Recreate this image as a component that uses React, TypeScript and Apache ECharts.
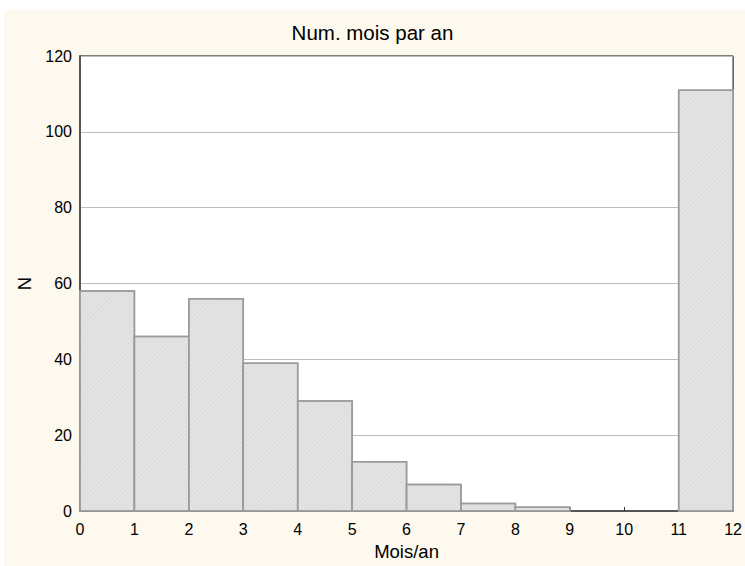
import React, { useEffect, useRef } from "react";
import * as echarts from "echarts";

const binStarts = [0, 1, 2, 3, 4, 5, 6, 7, 8, 9, 10, 11];
const binWidth = 1;
const counts = [58, 46, 56, 39, 29, 13, 7, 2, 1, 0, 0, 111];
const title = "Num. mois par an";
const xName = "Mois/an";
const yName = "N";

export default function App() {
  const ref = useRef<HTMLDivElement>(null);
  useEffect(() => {
    if (!ref.current) return;
    const chart = echarts.init(ref.current, null, { renderer: "svg" });
    const font = "Liberation Sans, Arial, Helvetica, sans-serif";
    const data = binStarts.map((s, i) => [s, s + binWidth, counts[i]]);
    chart.setOption({
      animation: false,
      backgroundColor: "#ffffff",
      graphic: [
        {
          type: "rect",
          z: -10,
          silent: true,
          shape: { x: 4, y: 10, width: 745, height: 566 },
          style: { fill: "#fdf9ee" },
        },
      ],
      title: {
        text: title,
        left: "center",
        top: 17,
        textStyle: { fontFamily: font, fontSize: 20.5, fontWeight: "normal", color: "#000" },
      },
      grid: {
        left: 80,
        top: 56,
        right: 8,
        bottom: 55,
        show: true,
        backgroundColor: "#ffffff",
        borderColor: "#000",
        borderWidth: 1,
      },
      xAxis: {
        type: "value",
        min: 0,
        max: 12,
        interval: 1,
        name: xName,
        nameLocation: "middle",
        nameGap: 30,
        nameTextStyle: { fontFamily: font, fontSize: 18.5, color: "#000" },
        axisLine: { show: true, onZero: false, lineStyle: { color: "#555", width: 2 } },
        axisTick: { show: true, inside: true, length: 4, lineStyle: { color: "#333" } },
        axisLabel: { fontFamily: font, fontSize: 16, color: "#000", margin: 10 },
        splitLine: { show: false },
      },
      yAxis: {
        type: "value",
        min: 0,
        max: 120,
        interval: 20,
        name: yName,
        nameLocation: "middle",
        nameGap: 41,
        nameTextStyle: { fontFamily: font, fontSize: 18.5, color: "#000" },
        axisLine: { show: true, lineStyle: { color: "#555", width: 2 } },
        axisTick: { show: false },
        axisLabel: { fontFamily: font, fontSize: 16, color: "#000", margin: 8 },
        splitLine: { show: true, lineStyle: { color: "#bdbdbd", width: 1 } },
      },
      series: [
        {
          type: "custom",
          data,
          encode: { x: [0, 1], y: 2 },
          renderItem: (params: any, api: any) => {
            const x0 = api.value(0);
            const x1 = api.value(1);
            const v = api.value(2);
            if (!v) return null;
            const p0 = api.coord([x0, v]);
            const p1 = api.coord([x1, 0]);
            return {
              type: "rect",
              shape: { x: p0[0], y: p0[1], width: p1[0] - p0[0], height: p1[1] - p0[1] },
              style: {
                fill: "#e4e4e4",
                stroke: "#9a9a9a",
                lineWidth: 1.5,
                decal: {
                  symbol: "rect",
                  color: "rgba(200,200,200,0.35)",
                  dashArrayX: [1, 0],
                  dashArrayY: [1, 2],
                  rotation: -Math.PI / 4,
                },
              },
            };
          },
        },
      ],
    });
    return () => chart.dispose();
  }, []);
  return (
    <div
      ref={ref}
      style={{ position: "absolute", left: 0, top: 0, width: 745, height: 566 }}
    />
  );
}
